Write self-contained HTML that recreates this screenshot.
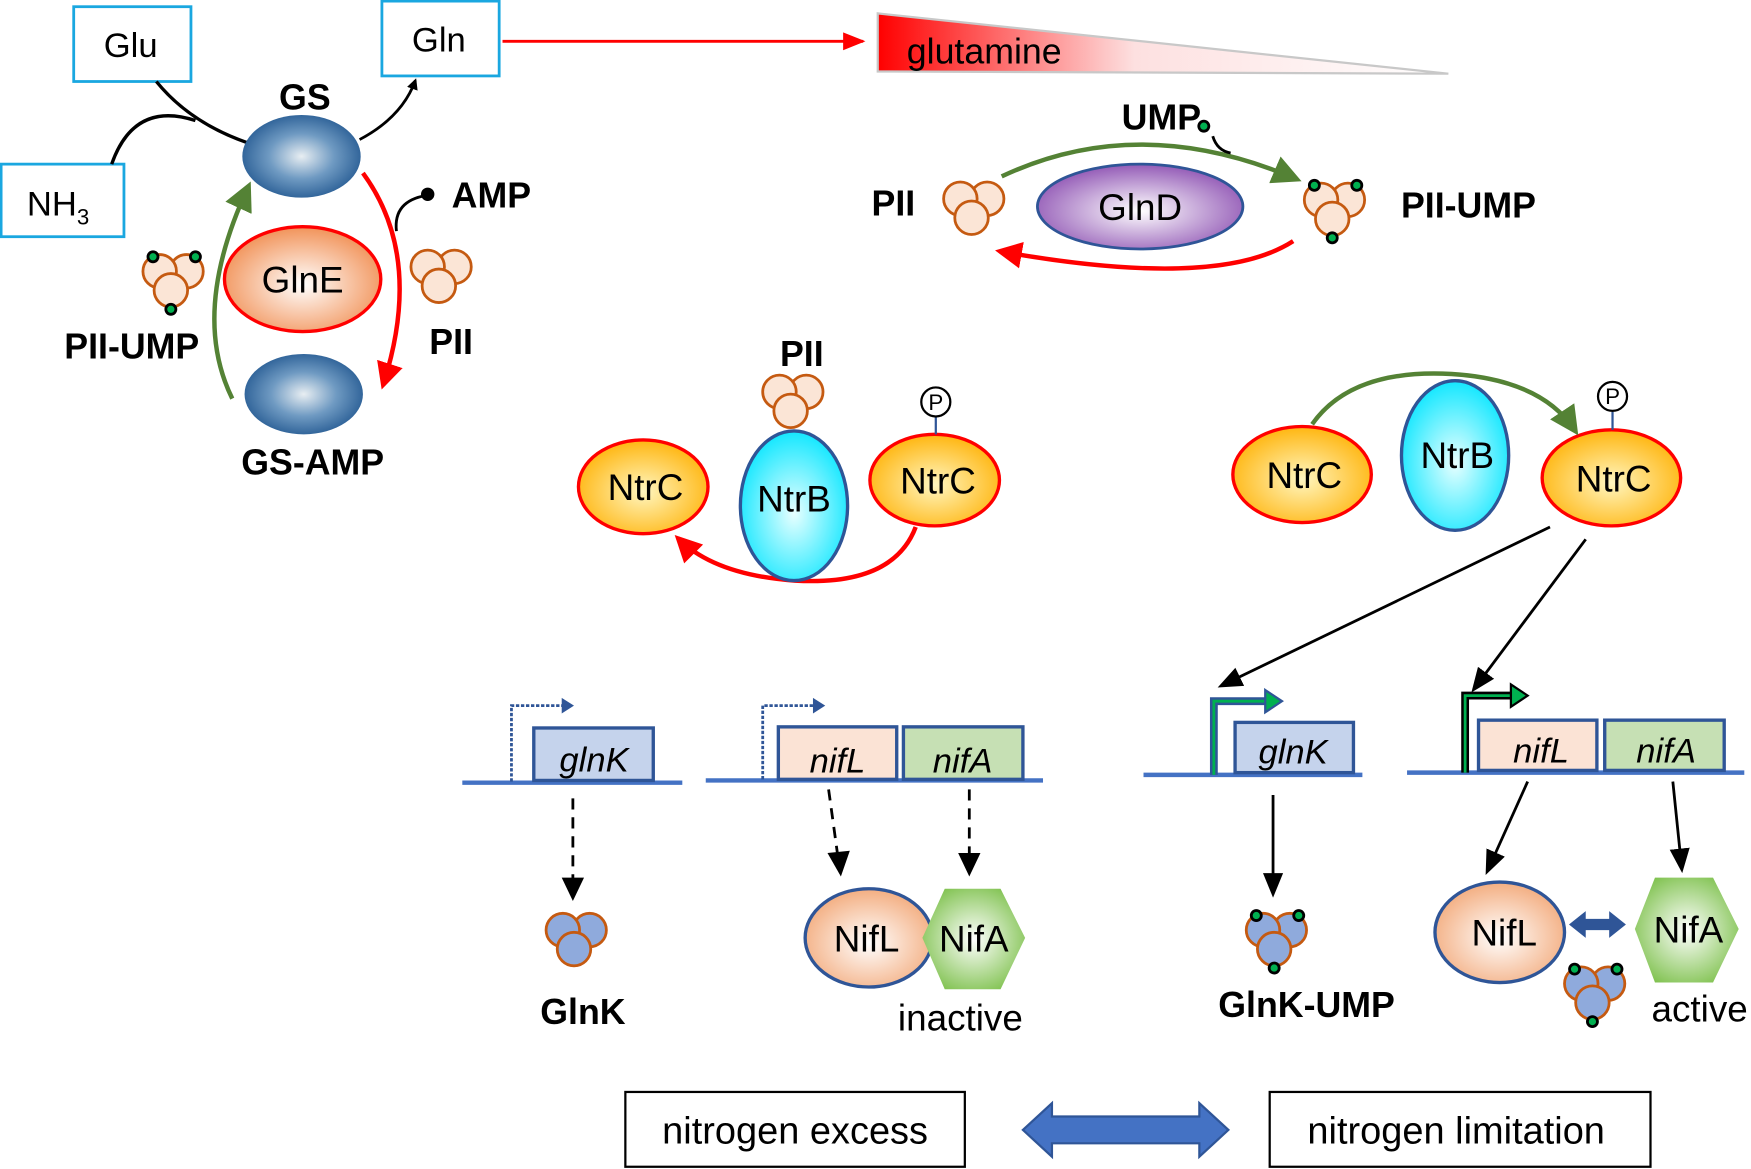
<!DOCTYPE html>
<html><head><meta charset="utf-8"><style>html,body{margin:0;padding:0;background:#fff}svg{display:block}text{font-family:"Liberation Sans",sans-serif}</style></head>
<body>
<svg width="1751" height="1169" viewBox="0 0 1568 1047" preserveAspectRatio="none" xmlns="http://www.w3.org/2000/svg">
<defs>
<radialGradient id="gs" cx="50%" cy="50%" r="55%"><stop offset="0" stop-color="#e8eef2"/><stop offset="0.5" stop-color="#6f9ac2"/><stop offset="1" stop-color="#255a92"/></radialGradient>
<radialGradient id="org" cx="50%" cy="55%" r="60%"><stop offset="0" stop-color="#fff"/><stop offset="1" stop-color="#f0894a"/></radialGradient>
<radialGradient id="ntrc" cx="50%" cy="55%" r="60%"><stop offset="0" stop-color="#fff6c0"/><stop offset="1" stop-color="#ffb000"/></radialGradient>
<radialGradient id="ntrb" cx="50%" cy="55%" r="60%"><stop offset="0" stop-color="#e8ffff"/><stop offset="1" stop-color="#00e5ff"/></radialGradient>
<radialGradient id="glnd" cx="50%" cy="55%" r="60%"><stop offset="0" stop-color="#fff"/><stop offset="1" stop-color="#8a4cb0"/></radialGradient>
<radialGradient id="nifl" cx="50%" cy="55%" r="60%"><stop offset="0" stop-color="#fff"/><stop offset="1" stop-color="#f2a675"/></radialGradient>
<radialGradient id="nifa" cx="50%" cy="50%" r="60%"><stop offset="0" stop-color="#fff"/><stop offset="1" stop-color="#7cc04a"/></radialGradient>
<linearGradient id="glut" x1="0" x2="1" y1="0" y2="0"><stop offset="0" stop-color="#ff0000"/><stop offset="0.45" stop-color="#fde0e0"/><stop offset="1" stop-color="#fff"/></linearGradient>
<marker id="ab" markerWidth="10" markerHeight="10" refX="8" refY="5" orient="auto" markerUnits="userSpaceOnUse" viewBox="0 0 10 10"><path d="M0,0 L10,5 L0,10 z" fill="#000"/></marker>
<marker id="abb" markerWidth="22" markerHeight="22" refX="18" refY="11" orient="auto" markerUnits="userSpaceOnUse" viewBox="0 0 22 22"><path d="M0,2 L22,11 L0,20 z" fill="#000"/></marker>
<marker id="ar" markerWidth="24" markerHeight="24" refX="20" refY="12" orient="auto" markerUnits="userSpaceOnUse" viewBox="0 0 24 24"><path d="M0,0 L24,12 L0,24 z" fill="#f00"/></marker>
<marker id="ars" markerWidth="20" markerHeight="20" refX="18" refY="10" orient="auto" markerUnits="userSpaceOnUse" viewBox="0 0 20 20"><path d="M0,2 L20,10 L0,18 z" fill="#f00"/></marker>
<marker id="ag" markerWidth="26" markerHeight="26" refX="20" refY="13" orient="auto" markerUnits="userSpaceOnUse" viewBox="0 0 26 26"><path d="M0,0 L26,13 L0,26 z" fill="#548235"/></marker>
<g id="tri"><circle cx="12" cy="-7" r="15"/><circle cx="-12" cy="-7" r="15"/><circle cx="-2" cy="10" r="15"/></g>
<g id="dots" fill="#00b050" stroke="#000" stroke-width="2.5"><circle cx="-18" cy="-20" r="4.5"/><circle cx="20" cy="-20" r="4.5"/><circle cx="-2" cy="27" r="4.5"/></g>
</defs>

<g fill="#fff" stroke="#1aa7e0" stroke-width="2.5">
<rect x="66" y="6" width="105" height="67"/><rect x="342" y="1" width="105" height="67"/><rect x="1" y="147" width="110" height="65"/>
</g>
<g font-size="31" text-anchor="middle"><text x="117" y="51">Glu</text><text x="393" y="46">Gln</text><text x="52" y="193">NH<tspan font-size="20" dy="8">3</tspan></text></g>

<line x1="450" y1="37" x2="773" y2="37" stroke="#f00" stroke-width="2.5" marker-end="url(#ars)"/>
<polygon points="786,12 786,64 1297,66" fill="url(#glut)" stroke="#c8c8c8" stroke-width="2"/>
<text x="812" y="57" font-size="32">glutamine</text>

<path d="M140,73 Q170,110 222,128" fill="none" stroke="#000" stroke-width="3"/>
<path d="M100,147 Q120,90 175,108" fill="none" stroke="#000" stroke-width="3"/>
<path d="M322,125 Q360,105 372,72" fill="none" stroke="#000" stroke-width="2.5" marker-end="url(#ab)"/>
<path d="M325,155 Q380,230 343,345" fill="none" stroke="#f00" stroke-width="4" marker-end="url(#ar)"/>
<path d="M355,207 Q352,180 382,175" fill="none" stroke="#000" stroke-width="2.5"/>
<circle cx="383" cy="174" r="6" fill="#000"/>
<path d="M208,357 Q170,280 222,168" fill="none" stroke="#548235" stroke-width="4" marker-end="url(#ag)"/>
<ellipse cx="270" cy="140" rx="53" ry="37" fill="url(#gs)"/>
<ellipse cx="272" cy="353" rx="53" ry="36" fill="url(#gs)"/>
<ellipse cx="271" cy="250" rx="70" ry="47" fill="url(#org)" stroke="#f00" stroke-width="3"/>
<text x="271" y="262" font-size="33" text-anchor="middle">GlnE</text>
<g font-weight="bold" font-size="32" text-anchor="middle">
<text x="273" y="98">GS</text><text x="440" y="186">AMP</text><text x="118" y="321">PII-UMP</text><text x="404" y="317">PII</text><text x="280" y="425">GS-AMP</text>
<text x="800" y="193">PII</text><text x="1315" y="195">PII-UMP</text><text x="1040" y="116">UMP</text><text x="718" y="328">PII</text>
<text x="522" y="917">GlnK</text><text x="1170" y="911">GlnK-UMP</text>
</g>
<g fill="#fbe5d6" stroke="#c55a11" stroke-width="2.5">
<use href="#tri" x="155" y="250"/><use href="#tri" x="395" y="246"/><use href="#tri" x="872" y="185"/><use href="#tri" x="1195" y="186"/><use href="#tri" x="710" y="358"/>
</g>
<use href="#dots" x="155" y="250"/><use href="#dots" x="1195" y="186"/>

<path d="M897,158 Q1020,100 1160,160" fill="none" stroke="#548235" stroke-width="4" marker-end="url(#ag)"/>
<path d="M1158,216 Q1090,260 895,225" fill="none" stroke="#f00" stroke-width="4" marker-end="url(#ar)"/>
<path d="M1086,122 Q1090,135 1102,137" fill="none" stroke="#000" stroke-width="2.5"/>
<circle cx="1078" cy="113" r="4.5" fill="#00b050" stroke="#000" stroke-width="2.5"/>
<ellipse cx="1021" cy="185" rx="92" ry="38" fill="url(#glnd)" stroke="#2f5597" stroke-width="2.5"/>
<text x="1021" y="197" font-size="33" text-anchor="middle">GlnD</text>

<path d="M820,472 Q800,525 712,520 Q640,515 607,482" fill="none" stroke="#f00" stroke-width="4" marker-end="url(#ar)"/>
<g stroke-width="3">
<ellipse cx="576" cy="436" rx="58" ry="42" fill="url(#ntrc)" stroke="#f00"/>
<ellipse cx="837" cy="430" rx="58" ry="41" fill="url(#ntrc)" stroke="#f00"/>
<ellipse cx="711" cy="453" rx="48" ry="67" fill="url(#ntrb)" stroke="#2f5597"/>
<ellipse cx="1166" cy="425" rx="62" ry="43" fill="url(#ntrc)" stroke="#f00"/>
<ellipse cx="1443" cy="428" rx="62" ry="43" fill="url(#ntrc)" stroke="#f00"/>
<ellipse cx="1303" cy="408" rx="48" ry="67" fill="url(#ntrb)" stroke="#2f5597"/>
</g>
<path d="M1175,380 Q1210,330 1300,335 Q1380,340 1410,385" fill="none" stroke="#548235" stroke-width="4" marker-end="url(#ag)"/>
<g font-size="33" text-anchor="middle">
<text x="578" y="448">NtrC</text><text x="840" y="442">NtrC</text><text x="711" y="458">NtrB</text>
<text x="1168" y="437">NtrC</text><text x="1445" y="440">NtrC</text><text x="1305" y="419">NtrB</text>
</g>
<g stroke="#2f5597" stroke-width="2"><line x1="838" y1="373" x2="838" y2="389"/><line x1="1444" y1="369" x2="1444" y2="385"/></g>
<g fill="#fff" stroke="#000" stroke-width="2"><circle cx="838" cy="360" r="13"/><circle cx="1444" cy="355" r="13"/></g>
<g font-size="20" text-anchor="middle"><text x="838" y="367">P</text><text x="1444" y="362">P</text></g>

<line x1="1388" y1="472" x2="1094" y2="614" stroke="#000" stroke-width="2.5" marker-end="url(#abb)"/>
<line x1="1420" y1="483" x2="1320" y2="617" stroke="#000" stroke-width="2.5" marker-end="url(#abb)"/>

<g stroke="#4472c4" stroke-width="4"><line x1="414" y1="701" x2="611" y2="701"/><line x1="632" y1="699" x2="934" y2="699"/><line x1="1024" y1="694" x2="1220" y2="694"/><line x1="1260" y1="692" x2="1562" y2="692"/></g>
<g stroke="#2f5597" stroke-width="3">
<rect x="478" y="652" width="107" height="47" fill="#c5d3ec"/>
<rect x="697" y="651" width="106" height="47" fill="#fbe3d5"/>
<rect x="809" y="651" width="107" height="47" fill="#c6e0b4"/>
<rect x="1106" y="647" width="106" height="45" fill="#c5d3ec"/>
<rect x="1324" y="645" width="106" height="45" fill="#fbe3d5"/>
<rect x="1437" y="645" width="107" height="45" fill="#c6e0b4"/>
</g>
<g font-size="31" font-style="italic" text-anchor="middle">
<text x="532" y="691">glnK</text><text x="750" y="692">nifL</text><text x="862" y="692">nifA</text>
<text x="1158" y="684">glnK</text><text x="1380" y="683">nifL</text><text x="1492" y="683">nifA</text>
</g>
<g fill="none" stroke="#2f5597" stroke-width="2.5" stroke-dasharray="3,1.5">
<path d="M458,700 V632 H505"/><path d="M683,698 V632 H730"/>
</g>
<g fill="#2f5597"><path d="M503,625 L514,632 L503,639 z"/><path d="M728,625 L739,632 L728,639 z"/></g>
<path d="M1087,694 V628 H1135" fill="none" stroke="#2f5597" stroke-width="7"/>
<path d="M1087,694 V628 H1135" fill="none" stroke="#00b050" stroke-width="2.5"/>
<path d="M1133,618 L1148,628 L1133,638 z" fill="#00b050" stroke="#2f5597" stroke-width="2"/>
<path d="M1312,692 V623 H1355" fill="none" stroke="#000" stroke-width="7"/>
<path d="M1312,692 V623 H1355" fill="none" stroke="#00b050" stroke-width="2.5"/>
<path d="M1353,613 L1368,623 L1353,633 z" fill="#00b050" stroke="#000" stroke-width="2"/>

<g stroke="#000" stroke-width="2.5" stroke-dasharray="10,7" fill="none">
<line x1="513" y1="715" x2="513" y2="788"/><line x1="742" y1="707" x2="750" y2="765"/><line x1="868" y1="707" x2="868" y2="765"/>
</g>
<g fill="#000"><path d="M503,786 L513,807 L523,786 z"/><path d="M741,764 L753,785 L761,762 z"/><path d="M858,764 L868,785 L878,764 z"/></g>
<line x1="1140" y1="712" x2="1140" y2="800" stroke="#000" stroke-width="2.5" marker-end="url(#abb)"/>
<line x1="1368" y1="700" x2="1332" y2="780" stroke="#000" stroke-width="2.5" marker-end="url(#abb)"/>
<line x1="1498" y1="700" x2="1506" y2="778" stroke="#000" stroke-width="2.5" marker-end="url(#abb)"/>

<g fill="#8faadc" stroke="#c55a11" stroke-width="2.5">
<use href="#tri" x="516" y="840"/><use href="#tri" x="1143" y="840"/><use href="#tri" x="1428" y="888"/>
</g>
<use href="#dots" x="1143" y="840"/><use href="#dots" x="1428" y="888"/>

<ellipse cx="778" cy="840" rx="57" ry="44" fill="url(#nifl)" stroke="#2f5597" stroke-width="3"/>
<polygon points="826,840 846,796 896,796 918,840 896,886 846,886" fill="url(#nifa)"/>
<ellipse cx="1343" cy="835" rx="58" ry="45" fill="url(#nifl)" stroke="#2f5597" stroke-width="3"/>
<polygon points="1464,832 1482,786 1534,786 1557,832 1534,880 1482,880" fill="url(#nifa)"/>
<path d="M1405,828 L1420,816 V823 H1441 V816 L1456,828 L1441,840 V833 H1420 V840 z" fill="#2f5597"/>
<g font-size="33" text-anchor="middle"><text x="776" y="852">NifL</text><text x="872" y="852">NifA</text><text x="1347" y="847">NifL</text><text x="1512" y="844">NifA</text></g>
<g font-size="33" text-anchor="middle"><text x="860" y="923">inactive</text><text x="1522" y="915">active</text></g>

<g fill="#fff" stroke="#000" stroke-width="2"><rect x="560" y="978" width="304" height="67"/><rect x="1137" y="978" width="341" height="67"/></g>
<g font-size="34" text-anchor="middle"><text x="712" y="1024">nitrogen excess</text><text x="1304" y="1024">nitrogen limitation</text></g>
<path d="M916,1012 L942,988 V1000 H1074 V988 L1100,1012 L1074,1036 V1024 H942 V1036 z" fill="#4472c4" stroke="#2f5597" stroke-width="2"/>
</svg>
</body></html>
